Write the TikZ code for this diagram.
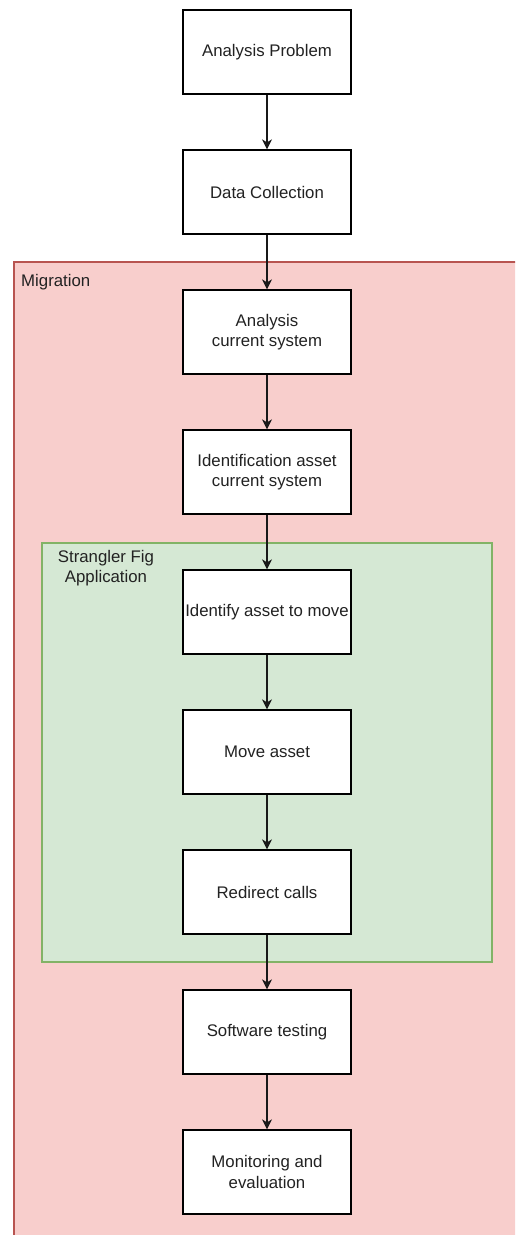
\documentclass[tikz,border=0pt]{standalone}
\usepackage{fontspec}
\setmainfont{Liberation Sans}
\usetikzlibrary{arrows.meta}
\definecolor{redfill}{HTML}{F8CECC}
\definecolor{redline}{HTML}{B85450}
\definecolor{greenfill}{HTML}{D5E8D4}
\definecolor{greenline}{HTML}{82B366}
\definecolor{txt}{HTML}{222222}
\tikzset{
  stepbox/.style={draw=black, fill=white, line width=1.3pt, minimum width=168pt, minimum height=84pt,
    inner sep=0pt, align=center, text=txt, font=\fontsize{16.8}{20.5}\selectfont},
  flow/.style={draw=black!90, line width=1.3pt, -{Stealth[length=10pt,width=10pt,inset=3pt]}},
  grouplabel/.style={text=txt, font=\fontsize{16.8}{20.5}\selectfont, inner sep=0pt}
}
\begin{document}
\begin{tikzpicture}[x=1pt,y=-1pt]
\useasboundingbox (0,0) rectangle (515,1235);
\clip (0,0) rectangle (515,1235);
\fill[white] (0,0) rectangle (515,1235);
% Migration container
\draw[fill=redfill, draw=redline, line width=1.2pt] (14,262) rectangle (530,1250);
\node[grouplabel, anchor=west] (miglabel) at (21,282) {Migration};
% Strangler Fig container
\draw[fill=greenfill, draw=greenline, line width=1.2pt] (42,543) rectangle (492,962);
\node[grouplabel, align=center, anchor=north] (sflabel) at (106,550) {Strangler Fig\\Application};
% Boxes
\node[stepbox] (b1) at (267,52) {Analysis Problem};
\node[stepbox] (b2) at (267,192) {Data Collection};
\node[stepbox] (b3) at (267,332) {Analysis\\current system};
\node[stepbox] (b4) at (267,472) {Identification asset\\current system};
\node[stepbox] (b5) at (267,612) {Identify asset to move};
\node[stepbox] (b6) at (267,752) {Move asset};
\node[stepbox] (b7) at (267,892) {Redirect calls};
\node[stepbox] (b8) at (267,1032) {Software testing};
\node[stepbox] (b9) at (267,1172) {Monitoring and\\evaluation};
% Connectors
\foreach \a/\b in {b1/b2,b2/b3,b3/b4,b4/b5,b5/b6,b6/b7,b7/b8,b8/b9}
  \draw[flow] (\a) -- (\b);
\end{tikzpicture}
\end{document}
